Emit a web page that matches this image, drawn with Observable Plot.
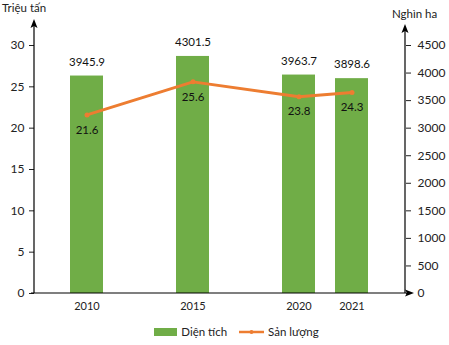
<!DOCTYPE html>
<html><head><meta charset="utf-8">
<script src="https://cdn.jsdelivr.net/npm/d3@7"></script>
<script src="https://cdn.jsdelivr.net/npm/@observablehq/plot@0.6"></script>
<style>
body{margin:0;background:#fff;font-family:Lato,"Open Sans",sans-serif;}
#legend{height:27px;display:flex;align-items:center;justify-content:center;padding-left:24px;font-size:11.5px;color:#222;gap:12px;}
.li{display:flex;align-items:center;gap:4px;}
</style>
</head><body>
<div id="chart"></div>
<div id="legend">
  <div class="li"><span style="display:inline-block;width:23px;height:8px;background:#70AD47"></span><span>Diện tích</span></div>
  <div class="li"><svg width="25" height="8"><line x1="0" y1="4" x2="25" y2="4" stroke="#ED7D31" stroke-width="2.5"/><circle cx="12.5" cy="4" r="2" fill="#ED7D31"/></svg><span>Sản lượng</span></div>
</div>
<script>
const years = ["2010", "2015", "2020", "2021"];
const slots = ["2010", "gap1", "2015", "gap2", "2020", "2021"];
const dienTich = [3945.9, 4301.5, 3963.7, 3898.6];
const sanLuong = [21.6, 25.6, 23.8, 24.3];
const leftTicks = [0, 5, 10, 15, 20, 25, 30];
const rightTicks = [0, 500, 1000, 1500, 2000, 2500, 3000, 3500, 4000, 4500];
const ratio = 4500 / 30;

const data = years.map((y, i) => ({year: y, area: dienTich[i], prod: sanLuong[i]}));
const font = "Lato, 'Open Sans', sans-serif";

const chart = Plot.plot({
  width: 449, height: 318,
  marginLeft: 34, marginRight: 44, marginTop: 45, marginBottom: 25,
  style: {fontFamily: font, fontSize: "11px", color: "#222", background: "#fff"},
  x: {type: "band", domain: slots, paddingInner: 0.377, paddingOuter: 0.6885, axis: null},
  y: {domain: [0, 4500], axis: null},
  marks: [
    Plot.barY(data, {x: "year", y: "area", fill: "#70AD47"}),
    Plot.line(data, {x: "year", y: d => d.prod * ratio, stroke: "#ED7D31", strokeWidth: 3}),
    Plot.dot(data, {x: "year", y: d => d.prod * ratio, r: 2.5, fill: "#ED7D31"}),
    Plot.text(data, {x: "year", y: "area", text: d => d.area.toFixed(1), dy: -14, fill: "#111", fontSize: 11.5}),
    Plot.text(data, {x: "year", y: d => d.prod * ratio, text: d => d.prod.toFixed(1), dy: 15, fill: "#111", fontSize: 11.5}),
    Plot.axisY(leftTicks.map(t => t * ratio), {anchor: "left", label: null, tickFormat: d => String(d / ratio), tickSize: 5, tickPadding: 5, fontSize: 12}),
    Plot.axisY(rightTicks, {anchor: "right", label: null, tickFormat: d => String(d), tickSize: 5, tickPadding: 7, fontSize: 12}),
    Plot.axisX(years, {anchor: "bottom", label: null, tickSize: 0, tickPadding: 9, fontSize: 11})
  ]
});
document.getElementById("chart").appendChild(chart);

// axis lines with arrows and axis titles
const svg = d3.select(chart);
const ys = chart.scale("y");
const xs = chart.scale("x");
const y0 = ys.apply(0), yTop = ys.apply(4500);
const xL = xs.range[0], xR = xs.range[1];
const g = svg.append("g").attr("stroke", "#000").attr("fill", "#000");
g.append("line").attr("x1", xL).attr("x2", xL).attr("y1", y0).attr("y2", yTop - 22).attr("stroke-width", 1.2);
g.append("path").attr("d", `M${xL},${yTop - 26}l-3.5,9l3.5,-2l3.5,2z`).attr("stroke", "none");
g.append("line").attr("x1", xR).attr("x2", xR).attr("y1", y0).attr("y2", yTop - 17).attr("stroke-width", 1.2);
g.append("path").attr("d", `M${xR},${yTop - 21}l-3.5,9l3.5,-2l3.5,2z`).attr("stroke", "none");
g.append("line").attr("x1", xL - 3).attr("x2", xR + 5).attr("y1", y0).attr("y2", y0).attr("stroke-width", 1.2);
g.append("path").attr("d", `M${xR + 9},${y0}l-9,-3.5l2,3.5l-2,3.5z`).attr("stroke", "none");
svg.append("text").attr("x", 2).attr("y", 12).attr("text-anchor", "start").attr("font-family", font).attr("font-size", 11.5).attr("fill", "#222").text("Triệu tấn");
svg.append("text").attr("x", 392).attr("y", 18).attr("text-anchor", "start").attr("font-family", font).attr("font-size", 11.5).attr("fill", "#222").text("Nghìn ha");
</script>
</body></html>
